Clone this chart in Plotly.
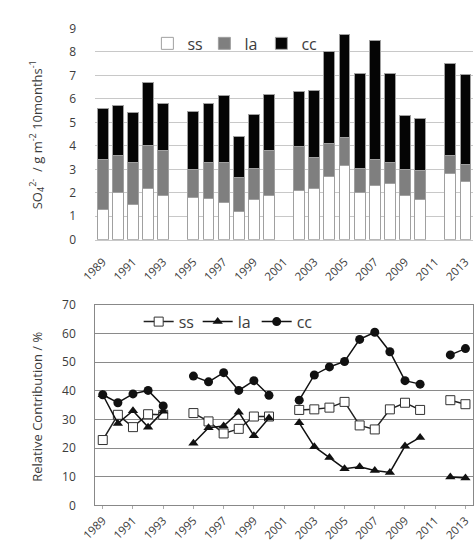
import plotly.graph_objects as go

years = list(range(1989, 2014))
# stacked deposition components (g m-2 10months-1); None = no data
ss_dep = [1.3, 2.0, 1.5, 2.2, 1.9, None, 1.8, 1.75, 1.6, 1.2, 1.7, 1.9, None,
          2.1, 2.2, 2.7, 3.15, 2.0, 2.3, 2.4, 1.9, 1.7, None, 2.8, 2.5]
la_dep = [2.1, 1.6, 1.8, 1.8, 1.9, None, 1.2, 1.55, 1.7, 1.45, 1.35, 1.9, None,
          1.85, 1.3, 1.4, 1.2, 1.05, 1.1, 0.9, 1.1, 1.25, None, 0.8, 0.7]
cc_dep = [2.2, 2.1, 2.1, 2.7, 2.0, None, 2.45, 2.5, 2.85, 1.75, 2.3, 2.4, None,
          2.35, 2.85, 3.9, 4.4, 4.05, 5.1, 3.8, 2.3, 2.2, None, 3.9, 3.85]
# relative contributions (%)
ss_pct = [22.8, 31.6, 27.3, 31.8, 31.6, None, 32.2, 29.3, 25.1, 26.7, 31.0, 31.0, None,
          33.3, 33.5, 34.1, 36.1, 27.9, 26.5, 33.5, 35.8, 33.3, None, 36.7, 35.3]
la_pct = [38.6, 28.6, 33.0, 27.3, 32.8, None, 21.7, 27.1, 27.7, 32.5, 24.3, 30.5, None,
          28.8, 20.5, 16.7, 12.8, 13.5, 12.2, 11.5, 20.7, 23.7, None, 9.9, 9.6]
cc_pct = [38.6, 35.8, 38.9, 40.1, 34.7, None, 45.1, 43.1, 46.3, 40.1, 43.5, 38.4, None,
          36.7, 45.5, 48.3, 50.2, 57.9, 60.4, 53.6, 43.5, 42.3, None, 52.5, 54.7]
tick_years = list(range(1989, 2014, 2))
tick_text = [str(y) for y in tick_years]

FONT = "Open Sans"
TXT = "#3c3c3c"

fig = go.Figure()
fig.add_trace(go.Bar(x=years, y=ss_dep, name="ss", marker=dict(color="white", line=dict(color="#a0a0a0", width=1)),
                     width=0.72, legend="legend", xaxis="x", yaxis="y"))
fig.add_trace(go.Bar(x=years, y=la_dep, name="la", marker=dict(color="#7f7f7f", line=dict(color="#a0a0a0", width=1)),
                     width=0.72, legend="legend", xaxis="x", yaxis="y"))
fig.add_trace(go.Bar(x=years, y=cc_dep, name="cc", marker=dict(color="#050505", line=dict(color="#a0a0a0", width=1)),
                     width=0.72, legend="legend", xaxis="x", yaxis="y"))

fig.add_trace(go.Scatter(x=years, y=ss_pct, name="ss", mode="lines+markers",
                         line=dict(color="#222", width=1.5),
                         marker=dict(symbol="square", size=9, color="white", line=dict(color="#333", width=1)),
                         legend="legend2", xaxis="x2", yaxis="y2"))
fig.add_trace(go.Scatter(x=years, y=la_pct, name="la", mode="lines+markers",
                         line=dict(color="#111", width=1.5),
                         marker=dict(symbol="triangle-up", size=9, color="#111"),
                         legend="legend2", xaxis="x2", yaxis="y2"))
fig.add_trace(go.Scatter(x=years, y=cc_pct, name="cc", mode="lines+markers",
                         line=dict(color="#111", width=1.5),
                         marker=dict(symbol="circle", size=9, color="#111"),
                         legend="legend2", xaxis="x2", yaxis="y2"))

H = 558.0
W = 474.0
def py(px):
    return 1 - px / H

xdom = [83 / W, 1.0]
fig.update_layout(
    width=474, height=558, margin=dict(l=0, r=0, t=0, b=0),
    paper_bgcolor="white", plot_bgcolor="white",
    barmode="stack", bargap=0.28,
    font=dict(family=FONT, color=TXT, size=12),
    xaxis=dict(domain=xdom, anchor="y", range=[1988.5, 2013.5], tickmode="array",
               tickvals=tick_years, ticktext=tick_text, tickangle=-45, showgrid=False,
               showline=True, linecolor="#c8c8c8", ticks="", tickfont=dict(size=11.5),
               ticklabelstandoff=10, zeroline=False),
    yaxis=dict(domain=[py(238), py(20)], anchor="x", range=[0, 9], dtick=1,
               showgrid=True, gridcolor="#c8c8c8", gridwidth=1.3, zeroline=False,
               tickfont=dict(size=12), ticklabelstandoff=18),
    xaxis2=dict(domain=xdom, anchor="y2", range=[1988.5, 2013.5], tickmode="array",
                tickvals=tick_years, ticktext=tick_text, tickangle=-45, showgrid=False,
                showline=True, linecolor="#888", mirror=True, ticks="outside", ticklen=3,
                tickcolor="#aaa", tickfont=dict(size=11.5), zeroline=False),
    yaxis2=dict(domain=[py(512), py(305)], anchor="x2", range=[0, 70], dtick=10,
                showgrid=True, gridcolor="#8a8a8a", gridwidth=1.2, zeroline=False,
                showline=True, linecolor="#888", mirror=True,
                tickfont=dict(size=12), ticklabelstandoff=16),
    legend=dict(orientation="h", x=137 / W, xanchor="left", y=py(18), yanchor="top",
                bgcolor="rgba(0,0,0,0)", font=dict(size=16), itemwidth=30, traceorder="normal",
                entrywidth=12),
    legend2=dict(orientation="h", x=128 / W, xanchor="left", y=py(305), yanchor="top",
                 bgcolor="rgba(0,0,0,0)", font=dict(size=16), itemwidth=30, traceorder="normal",
                 entrywidth=14),
    annotations=[
        dict(text="SO<sub>4</sub><sup>2-</sup>  / g m<sup>-2</sup> 10months<sup>-1</sup>",
             x=22 / W, y=py(130), xref="paper", yref="paper", textangle=-90,
             showarrow=False, font=dict(size=13, color=TXT), xanchor="center", yanchor="middle"),
        dict(text="Relative Contribution / %",
             x=22 / W, y=py(410), xref="paper", yref="paper", textangle=-90,
             showarrow=False, font=dict(size=13, color=TXT), xanchor="center", yanchor="middle"),
    ],
)

fig.write_html("out.html")
